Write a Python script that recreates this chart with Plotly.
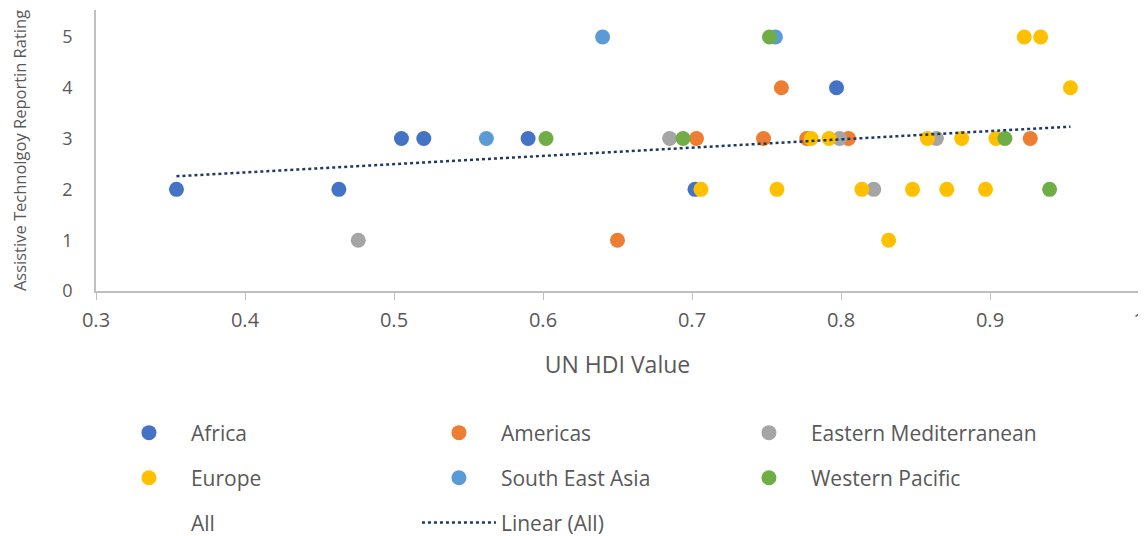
"""Scatter of AT reporting rating vs UN HDI, by WHO region, with linear trend."""

import numpy as np
import plotly.graph_objects as go

africa_x = [0.354, 0.463, 0.505, 0.520, 0.590, 0.702, 0.797]
africa_y = [2, 2, 3, 3, 3, 2, 4]

americas_x = [0.650, 0.703, 0.748, 0.760, 0.777, 0.805, 0.927]
americas_y = [1, 3, 3, 4, 3, 3, 3]

emed_x = [0.476, 0.685, 0.799, 0.822, 0.864]
emed_y = [1, 3, 3, 2, 3]

europe_x = [0.706, 0.757, 0.780, 0.792, 0.814, 0.832, 0.848, 0.858,
            0.871, 0.881, 0.897, 0.904, 0.923, 0.934, 0.954]
europe_y = [2, 2, 3, 3, 2, 1, 2, 3, 2, 3, 2, 3, 5, 5, 4]

sea_x = [0.562, 0.640, 0.756]
sea_y = [3, 5, 5]

wpac_x = [0.602, 0.694, 0.752, 0.910, 0.940]
wpac_y = [3, 3, 5, 3, 2]

x_ticks = [0.3, 0.4, 0.5, 0.6, 0.7, 0.8, 0.9, 1.0]
x_ticktext = ["0.3", "0.4", "0.5", "0.6", "0.7", "0.8", "0.9", "1"]

regions = [
    ("Africa", africa_x, africa_y, "#4472C4", "legend"),
    ("Americas", americas_x, americas_y, "#ED7D31", "legend"),
    ("Eastern Mediterranean", emed_x, emed_y, "#A5A5A5", "legend"),
    ("Europe", europe_x, europe_y, "#FFC000", "legend2"),
    ("South East Asia", sea_x, sea_y, "#5B9BD5", "legend2"),
    ("Western Pacific", wpac_x, wpac_y, "#70AD47", "legend2"),
]

FONT = "Open Sans, sans-serif"
GREY = "#595959"

fig = go.Figure()
for name, xs, ys, color, leg in regions:
    fig.add_trace(go.Scatter(
        x=xs, y=ys, mode="markers", name=name, legend=leg,
        marker=dict(size=15, color=color, line=dict(width=0)),
    ))

all_x = np.array(sum([r[1] for r in regions], []))
all_y = np.array(sum([r[2] for r in regions], []))

# "All" series has no markers in the original, only a legend entry
fig.add_trace(go.Scatter(
    x=all_x, y=all_y, mode="markers", name="All", legend="legend3",
    marker=dict(size=15, color="rgba(0,0,0,0)"), hoverinfo="skip",
))

slope, icept = np.polyfit(all_x, all_y, 1)
tx = np.array([all_x.min(), all_x.max()])
fig.add_trace(go.Scatter(
    x=tx, y=slope * tx + icept, mode="lines", name="Linear (All)",
    legend="legend3",
    line=dict(color="#203864", width=2.5, dash="dot"),
))

legend_common = dict(
    orientation="h", xanchor="left", yanchor="middle", x=0.0105,
    entrywidth=221, entrywidthmode="pixels", itemwidth=74,
    font=dict(family=FONT, size=21, color=GREY),
    bgcolor="rgba(0,0,0,0)",
)

fig.update_layout(
    width=1146, height=536,
    margin=dict(l=88, r=15, t=2, b=252),
    plot_bgcolor="white", paper_bgcolor="white",
    font=dict(family=FONT, color=GREY),
    legend=dict(legend_common, y=-0.5),
    legend2=dict(legend_common, y=-0.66),
    legend3=dict(legend_common, y=-0.819),
)
fig.update_xaxes(
    range=[0.3, 1.0], tickvals=x_ticks, ticktext=x_ticktext,
    showgrid=False, zeroline=False, automargin=False,
    showline=True, linecolor="#BFBFBF", linewidth=1.5,
    ticks="outside", ticklen=7, tickcolor="#BFBFBF", ticklabelstandoff=3,
    tickfont=dict(family=FONT, size=20, color=GREY),
    title=dict(text="UN HDI Value", font=dict(family=FONT, size=23, color=GREY),
               standoff=25),
)
fig.update_yaxes(
    range=[0, 5.53], tickvals=[0, 1, 2, 3, 4, 5],
    showgrid=False, zeroline=False, automargin=False,
    showline=True, linecolor="#BFBFBF", linewidth=1.5,
    ticks="", ticklabelstandoff=18,
    tickfont=dict(family=FONT, size=18, color=GREY),
    title=dict(text="Assistive Technolgoy Reportin Rating",
               font=dict(family=FONT, size=16.5, color=GREY), standoff=32),
)

fig.write_html("out.html")
